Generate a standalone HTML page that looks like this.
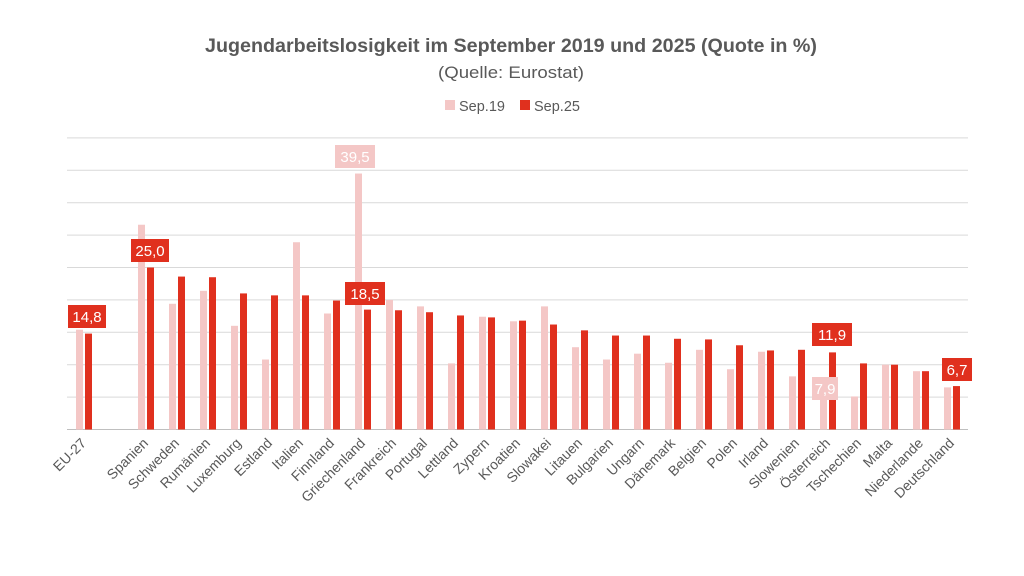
<!DOCTYPE html>
<html><head><meta charset="utf-8"><style>
body{margin:0;background:#fff;}
svg{display:block;font-family:"Liberation Sans",sans-serif;}
</style></head><body>
<svg width="1024" height="576" xmlns="http://www.w3.org/2000/svg">
<rect width="1024" height="576" fill="#fff"/>
<text x="511" y="52" text-anchor="middle" font-size="19.5" font-weight="bold" fill="#595959" textLength="612" lengthAdjust="spacingAndGlyphs">Jugendarbeitslosigkeit im September 2019 und 2025 (Quote in %)</text>
<text x="511" y="78" text-anchor="middle" font-size="17" fill="#595959" textLength="146" lengthAdjust="spacingAndGlyphs">(Quelle: Eurostat)</text>
<rect x="445" y="100" width="10" height="10" fill="#f4c7c6"/>
<text x="459" y="111" font-size="14.5" fill="#595959">Sep.19</text>
<rect x="520" y="100" width="10" height="10" fill="#e0301e"/>
<text x="534" y="111" font-size="14.5" fill="#595959">Sep.25</text>
<g id="g"></g>
</svg>
<script>
const NS="http://www.w3.org/2000/svg",g=document.getElementById("g");
function el(t,a,txt){const e=document.createElementNS(NS,t);for(const k in a)e.setAttribute(k,a[k]);if(txt)e.textContent=txt;g.appendChild(e);return e;}
const base=429.5,u=6.48;
for(let i=0;i<=9;i++){const y=base-i*5*u;el("line",{x1:67,x2:968,y1:y,y2:y,stroke:i?"#d9d9d9":"#bfbfbf","stroke-width":1});}
const d=[["EU-27",15.4,14.8],null,["Spanien",31.6,25.0],["Schweden",19.4,23.6],["Rumänien",21.4,23.5],["Luxemburg",16.0,21.0],["Estland",10.8,20.7],["Italien",28.9,20.7],["Finnland",17.9,19.9],["Griechenland",39.5,18.5],["Frankreich",20.0,18.4],["Portugal",19.0,18.1],["Lettland",10.2,17.6],["Zypern",17.4,17.3],["Kroatien",16.7,16.8],["Slowakei",19.0,16.2],["Litauen",12.7,15.3],["Bulgarien",10.8,14.5],["Ungarn",11.7,14.5],["Dänemark",10.3,14.0],["Belgien",12.3,13.9],["Polen",9.3,13.0],["Irland",12.0,12.2],["Slowenien",8.2,12.3],["Österreich",7.9,11.9],["Tschechien",5.1,10.2],["Malta",10.0,10.0],["Niederlande",9.0,9.0],["Deutschland",6.5,6.7]];
d.forEach((r,i)=>{if(!r)return;const c=84+i*31;
el("rect",{x:c-8,y:base-r[1]*u,width:7,height:r[1]*u,fill:"#f4c7c6"});
el("rect",{x:c+1,y:base-r[2]*u,width:7,height:r[2]*u,fill:"#e0301e"});
el("text",{x:c+3,y:444,"text-anchor":"end","font-size":14,fill:"#595959",transform:`rotate(-45 ${c+3} 444)`},r[0]);});
function lab(x,y,w,t,f){el("rect",{x:x,y:y,width:w,height:23,fill:f});el("text",{x:x+w/2,y:y+17,"text-anchor":"middle","font-size":15,fill:"#fff"},t);}
lab(68,305,38,"14,8","#e0301e");lab(131,239,38,"25,0","#e0301e");lab(345,282,40,"18,5","#e0301e");
lab(812,323,40,"11,9","#e0301e");lab(942,358,30,"6,7","#e0301e");lab(335,145,40,"39,5","#f4c7c6");lab(812,377,26,"7,9","#f4c7c6");
</script>
</body></html>
